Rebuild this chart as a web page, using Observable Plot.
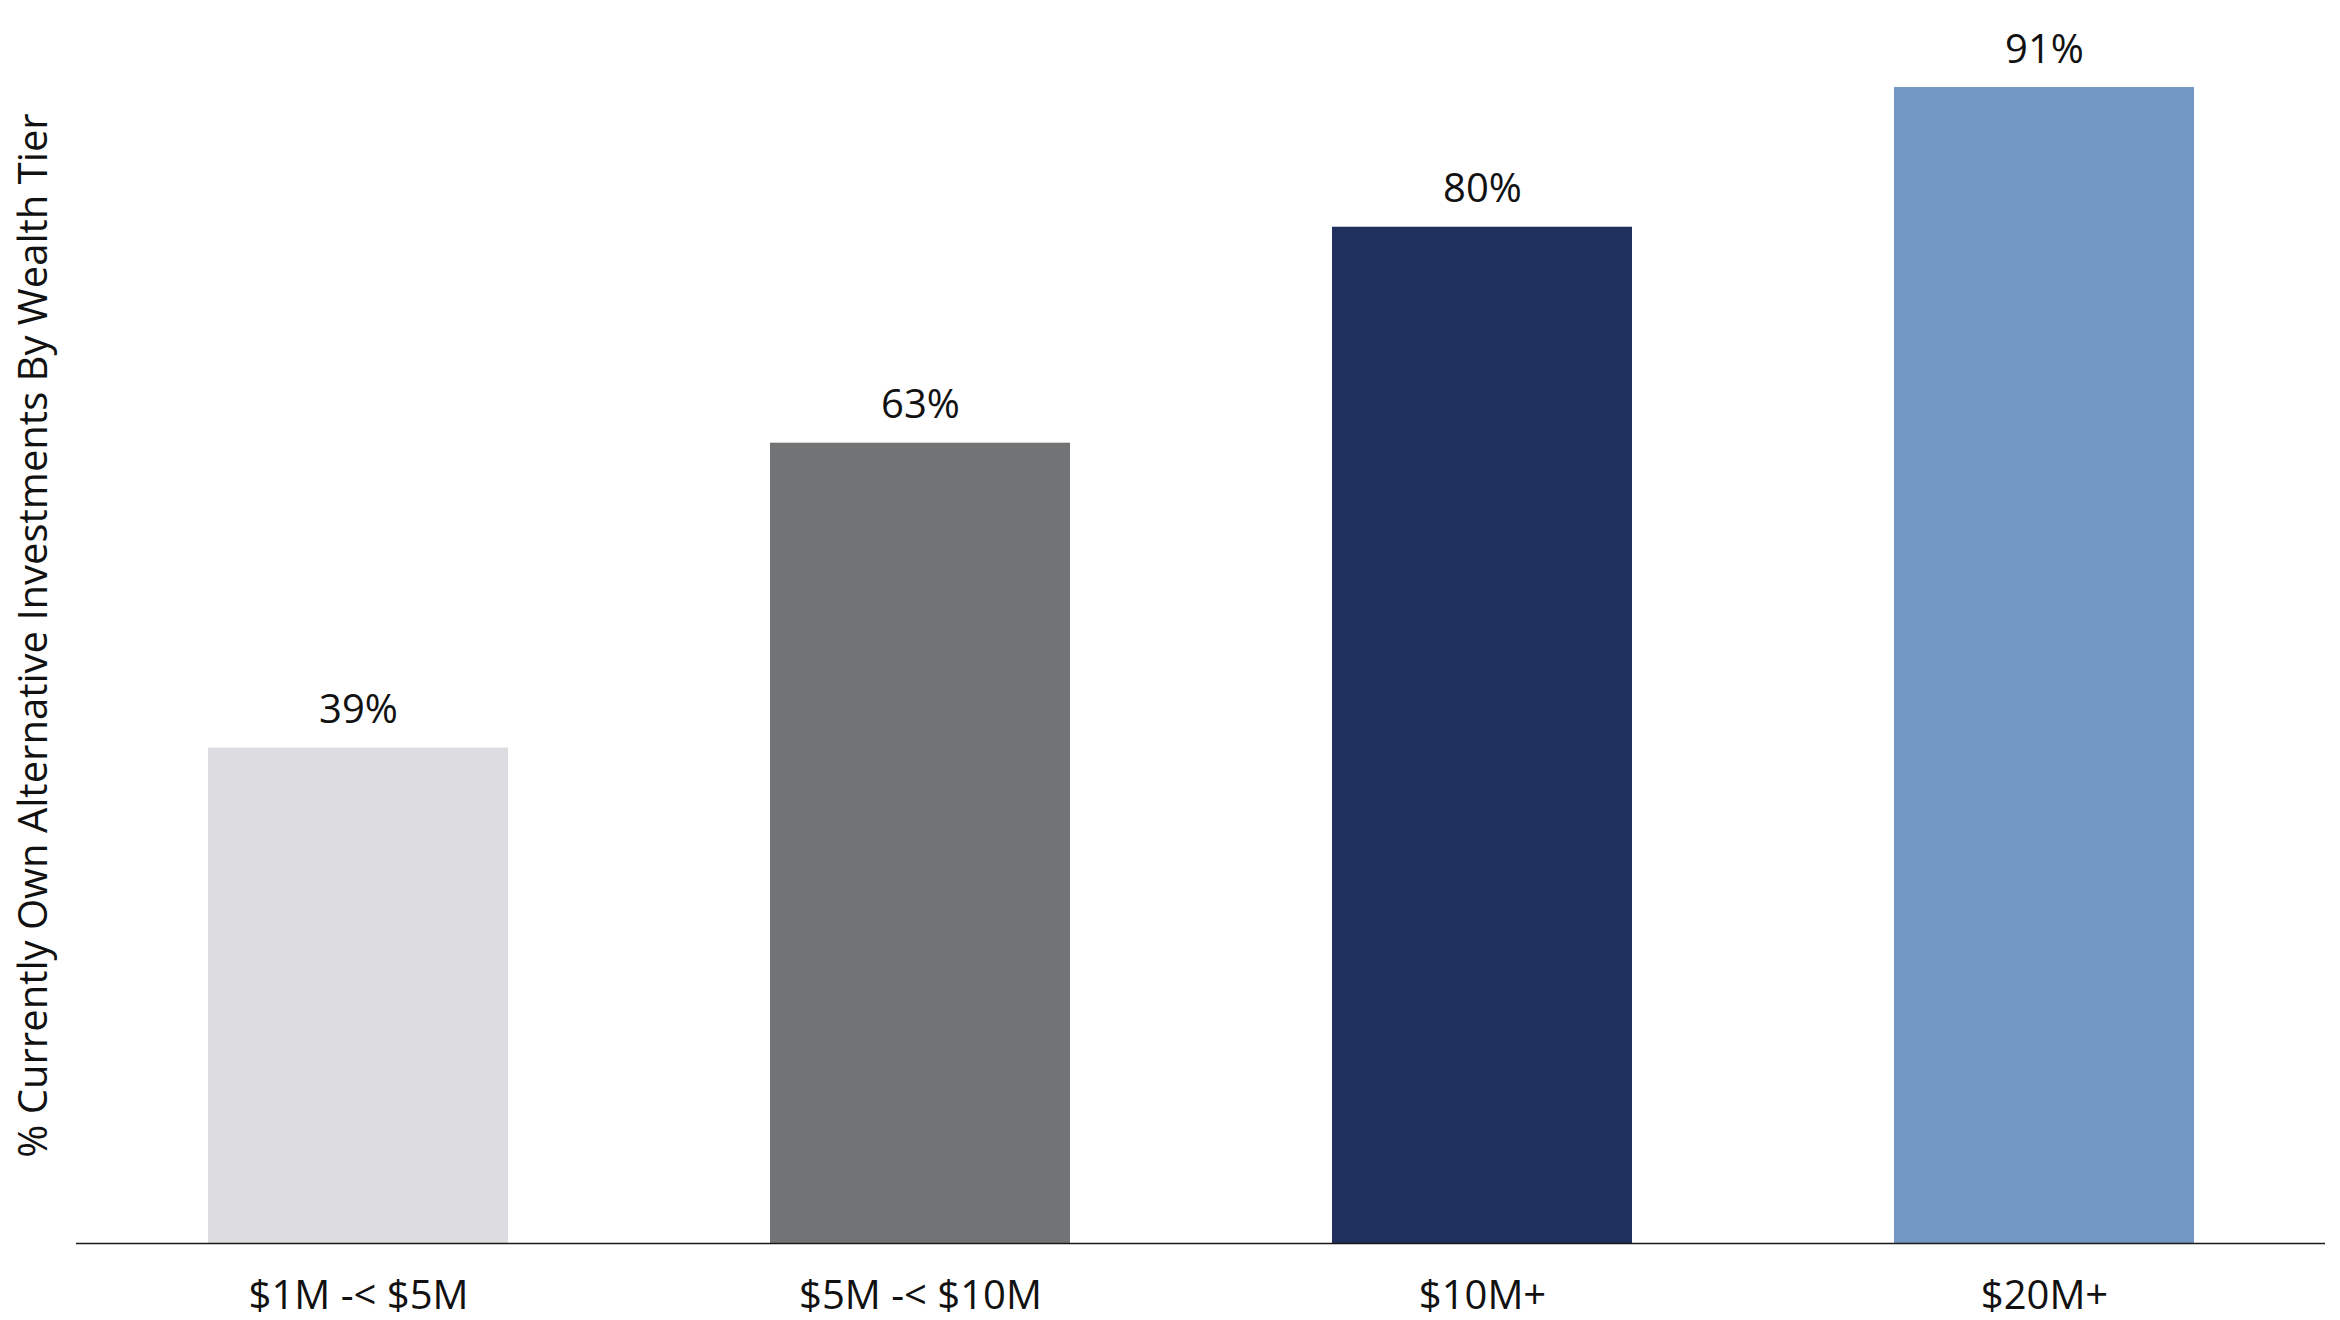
<!DOCTYPE html>
<html>
<head>
<meta charset="utf-8">
<script src="https://cdn.jsdelivr.net/npm/d3@7"></script>
<script src="https://cdn.jsdelivr.net/npm/@observablehq/plot@0.6"></script>
<style>
  html, body { margin: 0; padding: 0; background: #fff; }
  #chart svg { display: block; }
</style>
</head>
<body>
<div id="chart"></div>
<script>
const tiers = ["$1M -< $5M", "$5M -< $10M", "$10M+", "$20M+"];
const shares = [39, 63, 80, 91];
const barColors = ["#dcdce1", "#727375", "#1f2f5e", "#7398c4"];
const yTitle = "% Currently Own Alternative Investments By Wealth Tier";

const data = tiers.map((t, i) => ({tier: t, value: shares[i], color: barColors[i]}));

const chart = Plot.plot({
  width: 2340,
  height: 1320,
  marginTop: 87,
  marginBottom: 77,
  marginLeft: 76,
  marginRight: 15,
  style: {fontFamily: "'Open Sans', sans-serif", fontSize: "40px", color: "#111", background: "#fff"},
  x: {domain: tiers, paddingInner: 0.4664, paddingOuter: 0.2332, label: null, tickSize: 0, tickPadding: 37},
  y: {domain: [0, 91], axis: null},
  marks: [
    Plot.barY(data, {x: "tier", y: "value", fill: "color"}),
    Plot.text(data, {x: "tier", y: "value", text: d => `${d.value}%`, lineAnchor: "bottom", dy: -25, fontSize: 40, fill: "#111"}),
    Plot.ruleY([0], {stroke: "#1a1a1a", strokeWidth: 1.6}),
    Plot.text([yTitle], {text: d => d, frameAnchor: "left", textAnchor: "middle", rotate: -90, dx: -42, dy: -30, fontSize: 40, fill: "#111"})
  ]
});
document.getElementById("chart").appendChild(chart);
</script>
</body>
</html>
